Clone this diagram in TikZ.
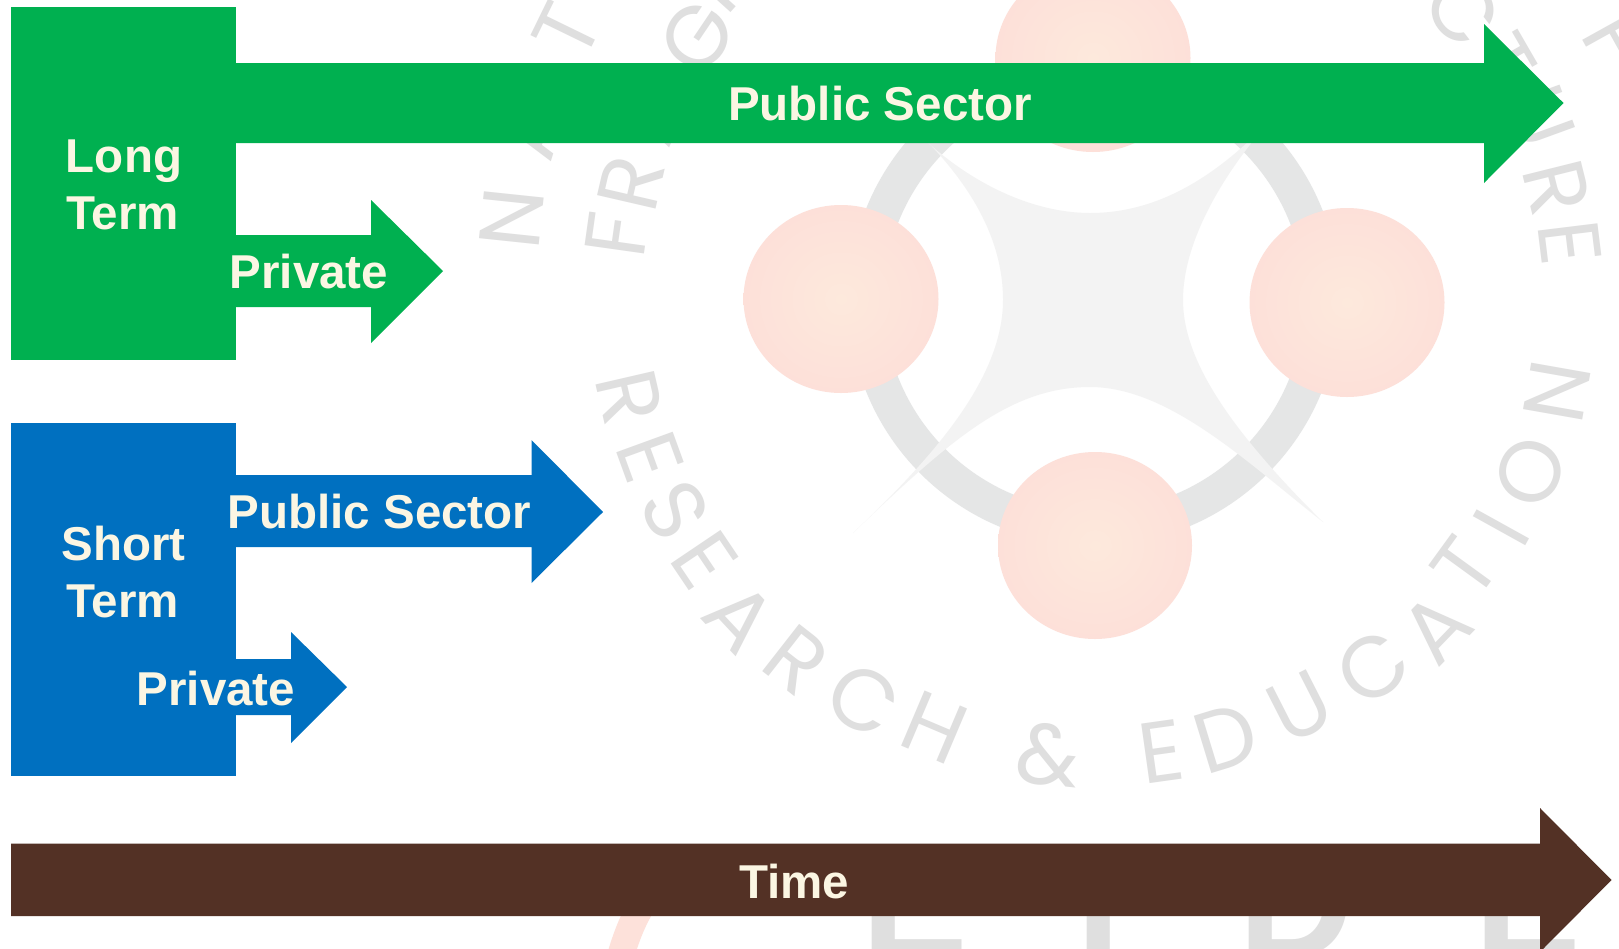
\documentclass[tikz,border=0pt]{standalone}
\usepackage{fontspec}
\setmainfont{Liberation Sans}
\newfontfamily\wmfont{Poppins}
\definecolor{grn}{HTML}{00B050}
\definecolor{blu}{HTML}{0070C0}
\definecolor{brn}{HTML}{533125}
\definecolor{cream}{HTML}{FBF6E3}
\definecolor{wmgray}{HTML}{DFDFDF}
\definecolor{ringgray}{HTML}{E5E6E6}
\definecolor{stargray}{HTML}{F3F3F3}
\definecolor{pinkin}{HTML}{FDE9DC}
\definecolor{pinkout}{HTML}{FDE0D9}
\tikzset{
  label/.style={font=\bfseries\fontsize{47.5}{57}\selectfont, text=cream, inner sep=0pt, anchor=base},
  wmletter/.style={font=\wmfont\fontsize{86}{90}\selectfont, text=wmgray, inner sep=0pt},
  wmbig/.style={font=\bfseries\fontsize{160}{170}\selectfont, text=wmgray, inner sep=0pt, anchor=base west},
  pinkball/.style={inner color=pinkin, outer color=pinkout},
}
\begin{document}
\begin{tikzpicture}[x=1pt,y=-1pt]
\useasboundingbox (0,0) rectangle (1619,948);
\clip (0,0) rectangle (1619,948);
\fill[white] (0,0) rectangle (1619,948);
% watermark: ring, star, balls
\draw[ringgray, line width=35pt] (1094,300) circle [radius=228];
\fill[stargray] (905,120) .. controls (960,180) and (1030,213) .. (1090,213)
  .. controls (1150,213) and (1210,185) .. (1275,115)
  .. controls (1225,170) and (1183,240) .. (1183,300)
  .. controls (1183,360) and (1230,430) .. (1323,522)
  .. controls (1250,465) and (1170,387) .. (1090,387)
  .. controls (1010,387) and (950,440) .. (853,533)
  .. controls (930,460) and (1003,380) .. (1003,300)
  .. controls (1003,230) and (960,170) .. (905,120) -- cycle;
\shade[pinkball] (1093,58) ellipse [x radius=97.5, y radius=94];
\shade[pinkball] (841,299) ellipse [x radius=97.5, y radius=94];
\shade[pinkball] (1347,302.5) ellipse [x radius=97.5, y radius=94.5];
\shade[pinkball] (1095,545.5) ellipse [x radius=97, y radius=93.5];
% watermark: lettering
\foreach \n/\t/\x/\y/\r in {
  a/R/630/397/-77, b/E/650/457/-70, c/S/675/510/-60, d/E/705/560/-56,
  e/A/740/617/-47, f/R/797/660/-38, g/C/863/700/-30, h/H/935/728/-23,
  i/\&/1048/755/-6, j/E/1161/752/8, k/D/1226/738/17, l/U/1300/707/27,
  m/C/1373/667/37, n/A/1436/628/46, o/T/1465/567/54, p/I/1501/528/61,
  q/O/1530/472/68, r/N/1557/392/80,
  s/N/512/218/84, t/A/530/128/73, u/T/567/30/64,
  v/F/617/235/82, w/R/631/183/77, x/A/652/112/67, y/G/697/37/56, z/I/711/-10/48,
  aa/C/1463/10/-52, ab/T/1502/62/-60, ac/U/1539/117/-70, ad/R/1557/188/-76,
  ae/E/1570/243/-83, af/F/1616/39/-61}
  \node[wmletter, rotate=\r] (wm\n) at (\x,\y) {\t};
\draw[pinkout!85!pinkin, line width=27pt] (645,900) .. controls (632,920) and (625,940) .. (618,965);
\node[wmbig] (bigA) at (861,957) {E};
\node[wmbig] (bigB) at (1076,957) {I};
\node[wmbig] (bigC) at (1238,957) {D};
\node[wmbig] (bigD) at (1474,957) {E};
% long term
\fill[grn] (11,7) rectangle (236,360);
\fill[grn] (236,63) -- (1484,63) -- (1484,24) -- (1563.5,103) -- (1484,183) -- (1484,143) -- (236,143) -- cycle;
\fill[grn] (236,235) -- (371,235) -- (371,200) -- (443,271) -- (371,343) -- (371,307) -- (236,307) -- cycle;
% short term
\fill[blu] (11,423) rectangle (236,776);
\fill[blu] (236,475) -- (531.5,475) -- (531.5,440) -- (603,512) -- (531.5,583) -- (531.5,547) -- (236,547) -- cycle;
\fill[blu] (236,659) -- (291,659) -- (291,632) -- (347,687) -- (291,743) -- (291,715) -- (236,715) -- cycle;
% time
\fill[brn] (11,843.5) -- (1540,843.5) -- (1540,808) -- (1611.5,880) -- (1540,952) -- (1540,916) -- (11,916) -- cycle;
% labels
\node[label] (pubL) at (880,120.5) {Public Sector};
\node[label] (longA) at (124,172) {Long};
\node[label] (longB) at (122.5,229) {Term};
\node[label] (privL) at (309,288) {Private};
\node[label] (shortA) at (123.5,560) {Short};
\node[label] (shortB) at (122.5,617) {Term};
\node[label] (pubS) at (379.5,528) {Public Sector};
\node[label] (privS) at (216,705) {Private};
\node[label] (timeL) at (794,898) {Time};
\end{tikzpicture}
\end{document}
